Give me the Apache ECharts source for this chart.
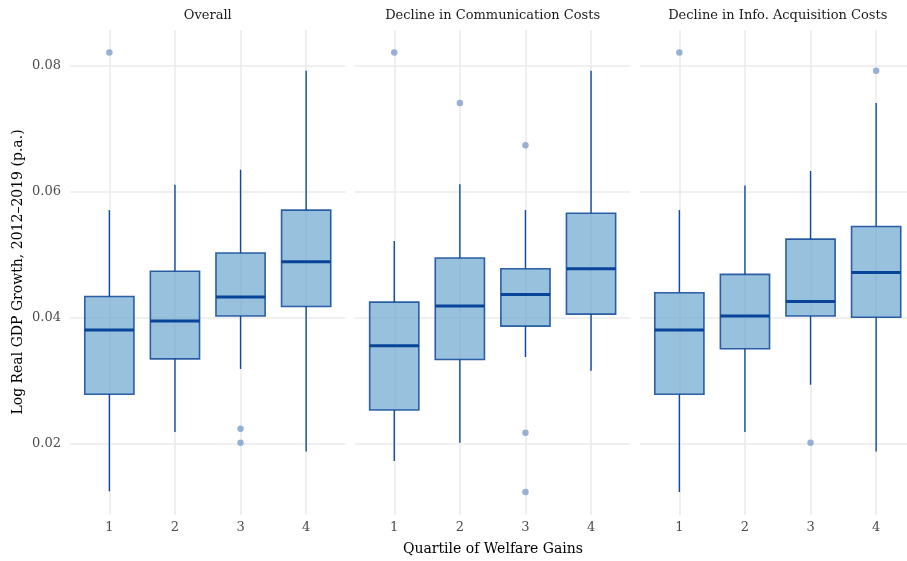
<!DOCTYPE html>
<html>
<head>
<meta charset="utf-8">
<script src="https://cdn.jsdelivr.net/npm/echarts@6/dist/echarts.min.js"></script>
<style>
  html, body { margin: 0; padding: 0; background: #fff; }
  #main { width: 907px; height: 561px; }
</style>
</head>
<body>
<div id="main"></div>
<script>
// quartile categories and facet titles
var categories = ['1', '2', '3', '4']
var panelTitles = ['Overall', 'Decline in Communication Costs', 'Decline in Info. Acquisition Costs']

// box stats per panel, one value per quartile
var whiskerLow = [
  [0.0125, 0.0219, 0.0319, 0.0188],
  [0.0173, 0.0202, 0.0338, 0.0316],
  [0.0124, 0.0219, 0.0294, 0.0188]
]
var lowerQ = [
  [0.0279, 0.0335, 0.0403, 0.0418],
  [0.0254, 0.0334, 0.0387, 0.0406],
  [0.0279, 0.0351, 0.0403, 0.0401]
]
var medians = [
  [0.0381, 0.0395, 0.0433, 0.0489],
  [0.0356, 0.0419, 0.0437, 0.0478],
  [0.0381, 0.0403, 0.0426, 0.0472]
]
var upperQ = [
  [0.0434, 0.0474, 0.0503, 0.0571],
  [0.0425, 0.0495, 0.0478, 0.0566],
  [0.0440, 0.0469, 0.0525, 0.0545]
]
var whiskerHigh = [
  [0.0571, 0.0611, 0.0635, 0.0792],
  [0.0522, 0.0612, 0.0571, 0.0792],
  [0.0571, 0.0610, 0.0633, 0.0741]
]
// outliers: [quartile index, value]
var outliers = [
  [[0, 0.0821], [2, 0.0224], [2, 0.0202]],
  [[0, 0.0821], [1, 0.0741], [2, 0.0674], [2, 0.0218], [2, 0.0124]],
  [[0, 0.0821], [2, 0.0202], [3, 0.0792]]
]
var yTicks = [0.02, 0.04, 0.06, 0.08]

var FONT = 'DejaVu Serif'
var GRID_LINE = '#ebebeb'
var panelLeft = [70, 354.9, 640]
var panelWidth = 275.5
var step = panelWidth / 4.2

var myChart = echarts.init(document.getElementById('main'))

var grids = [], xAxes = [], yAxes = [], series = []
panelTitles.forEach(function (t, p) {
  // background grid: horizontal lines across the full panel
  grids.push({ left: panelLeft[p], width: panelWidth, top: 65.7, height: 378.3 })
  xAxes.push({ gridIndex: 2 * p, type: 'value', min: 0, max: 1, show: false })
  yAxes.push({
    gridIndex: 2 * p,
    type: 'value',
    min: 0.02,
    max: 0.08,
    interval: 0.02,
    axisLine: { show: false },
    axisTick: { show: false },
    axisLabel: {
      show: p === 0,
      margin: 9,
      color: '#4d4d4d',
      fontSize: 13,
      fontFamily: FONT,
      formatter: function (v) { return v.toFixed(2) },
    },
    splitLine: { lineStyle: { color: GRID_LINE, width: 1.6 } },
  })
  // data grid: category centres, vertical lines, boxes
  grids.push({ left: panelLeft[p] + 0.6 * step, width: 3 * step, top: 30, height: 485 })
  xAxes.push({
    gridIndex: 2 * p + 1,
    type: 'category',
    data: categories,
    boundaryGap: false,
    axisLine: { show: false },
    axisTick: { show: false },
    axisLabel: { margin: 6, color: '#4d4d4d', fontSize: 13, fontFamily: FONT },
    splitLine: { show: true, lineStyle: { color: GRID_LINE, width: 1.6 } },
  })
  yAxes.push({
    gridIndex: 2 * p + 1,
    type: 'value',
    min: 0.02 - (515 - 444) / 6305,
    max: 0.08 + (65.7 - 30) / 6305,
    show: false,
    splitLine: { show: false },
  })

  var boxData = categories.map(function (c, i) {
    return [i, whiskerLow[p][i], lowerQ[p][i], medians[p][i], upperQ[p][i], whiskerHigh[p][i]]
  })
  series.push({
    type: 'custom',
    xAxisIndex: 2 * p + 1,
    yAxisIndex: 2 * p + 1,
    data: boxData,
    encode: { x: 0, y: [1, 2, 3, 4, 5] },
    renderItem: function (params, api) {
      var x = api.value(0)
      var lo = api.coord([x, api.value(1)])
      var q1 = api.coord([x, api.value(2)])
      var md = api.coord([x, api.value(3)])
      var q3 = api.coord([x, api.value(4)])
      var hi = api.coord([x, api.value(5)])
      var half = api.size([1, 0])[0] * 0.375
      var whisker = { stroke: '#0b4a9c', lineWidth: 1.4 }
      return {
        type: 'group',
        children: [
          { type: 'line', shape: { x1: hi[0], y1: hi[1], x2: q3[0], y2: q3[1] }, style: whisker },
          { type: 'line', shape: { x1: q1[0], y1: q1[1], x2: lo[0], y2: lo[1] }, style: whisker },
          {
            type: 'rect',
            shape: { x: q3[0] - half, y: q3[1], width: 2 * half, height: q1[1] - q3[1] },
            style: { fill: 'rgba(108,166,206,0.7)', stroke: 'rgba(14,72,152,0.85)', lineWidth: 1.6 },
          },
          {
            type: 'line',
            shape: { x1: md[0] - half, y1: md[1], x2: md[0] + half, y2: md[1] },
            style: { stroke: '#08449a', lineWidth: 3 },
          },
        ],
      }
    },
    silent: true,
  })
  series.push({
    type: 'scatter',
    xAxisIndex: 2 * p + 1,
    yAxisIndex: 2 * p + 1,
    data: outliers[p],
    symbolSize: 6.5,
    itemStyle: { color: '#7d9fcc' },
    silent: true,
  })
})

var graphics = panelTitles.map(function (t, p) {
  return {
    type: 'text',
    x: panelLeft[p] + panelWidth / 2,
    y: 16,
    style: {
      text: t, x: 0, y: 0, textAlign: 'center', align: 'center',
      textVerticalAlign: 'middle', verticalAlign: 'middle',
      fill: '#1a1a1a', font: '13px "' + FONT + '"',
    },
  }
})
graphics.push({
  type: 'text',
  x: 493,
  y: 549,
  style: {
    text: 'Quartile of Welfare Gains', textAlign: 'center', align: 'center',
    textVerticalAlign: 'middle', verticalAlign: 'middle',
    fill: '#000', font: '14px "' + FONT + '"',
  },
})
graphics.push({
  type: 'text',
  x: 18,
  y: 272,
  rotation: Math.PI / 2,
  style: {
    text: 'Log Real GDP Growth, 2012\u20132019 (p.a.)', textAlign: 'center', align: 'center',
    textVerticalAlign: 'middle', verticalAlign: 'middle',
    fill: '#000', font: '14px "' + FONT + '"',
  },
})

var option = {
  backgroundColor: '#fff',
  animation: false,
  grid: grids,
  xAxis: xAxes,
  yAxis: yAxes,
  series: series,
  graphic: graphics,
}
option && myChart.setOption(option)
</script>
</body>
</html>
